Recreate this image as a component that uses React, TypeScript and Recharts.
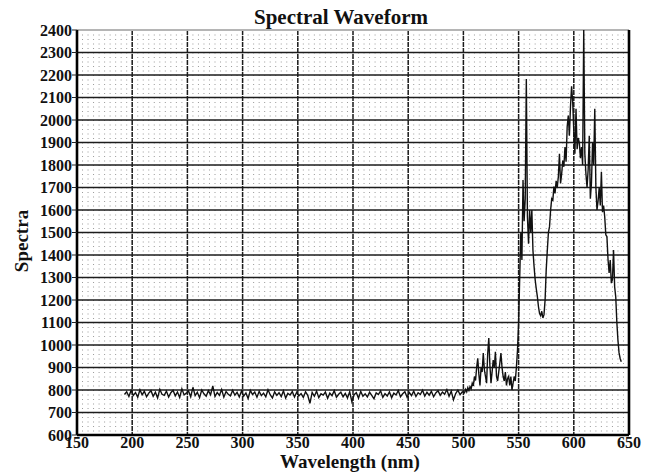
import React from "react";
import {
  LineChart,
  Line,
  XAxis,
  YAxis,
  CartesianGrid,
  ReferenceLine,
} from "recharts";

// Flat detector floor, sampled every 2 nm starting at 193 nm
const baselineStartNm = 193;
const baselineStepNm = 2;
const baselineValues = [
  780, 792, 771, 798, 776, 789, 768, 801, 779, 794,
  770, 786, 797, 772, 790, 765, 803, 781, 776, 795,
  769, 788, 799, 774, 791, 767, 805, 778, 786, 796,
  770, 812, 775, 790, 766, 800, 783, 772, 797, 779,
  818, 771, 789, 776, 802, 768, 793, 781, 774, 799,
  777, 790, 769, 795, 773, 787, 762, 798, 780, 791,
  768, 794, 775, 786, 770, 801, 779, 765, 792, 776,
  788, 771, 796, 764, 785, 778, 793, 769, 790, 774,
  784, 767, 792, 776, 741, 789, 772, 795, 766, 783,
  777, 791, 763, 786, 775, 797, 768, 781, 790, 770,
  785, 765, 792, 748, 779, 788, 764, 794, 772, 783,
  769, 790, 776, 761, 787, 780, 796, 767, 784, 773,
  791, 766, 786, 778, 798, 770, 783, 792, 768, 789,
  775, 795, 771, 788, 780, 799, 773, 790, 777, 794,
  770, 787, 797, 776, 791, 781, 802, 772, 795, 756,
  784, 799, 779, 792,
];

// Emission region, sampled every 1 nm starting at 501 nm
const emissionStartNm = 501;
const emissionStepNm = 1;
const emissionValues = [
  788, 803, 792, 810, 798, 815, 805, 830, 818, 860,
  842, 900, 941, 870, 820, 900, 880, 964, 890, 860,
  830, 960, 1031, 910, 830, 880, 933, 900, 970, 860,
  840, 880, 920, 964, 900, 860, 840, 880, 820, 850,
  860, 820, 860, 800, 830, 860, 840, 900, 978, 1098,
  1300, 1500, 1378, 1733, 1550, 1650, 2182, 1570, 1450, 1600,
  1500, 1600, 1420, 1350, 1290, 1250, 1215, 1170, 1140, 1130,
  1150, 1120, 1135, 1200, 1333, 1420, 1500, 1526, 1600, 1650,
  1644, 1704, 1674, 1730, 1700, 1748, 1850, 1718, 1760, 1820,
  1792, 1880, 1815, 1970, 2020, 1930, 2060, 2150, 2080, 1950,
  1850, 2050, 1870, 1920, 1900, 1830, 1880, 1800, 2400, 1850,
  1760, 1700, 1780, 1930, 1650, 1720, 1900, 1800, 2050, 1700,
  1600, 1640, 1700, 1620, 1770, 1590, 1620, 1570, 1490, 1482,
  1380, 1320, 1378, 1275, 1290, 1422, 1259, 1213, 1100, 1020,
  965, 940, 926,
];

const xTicks = [150, 200, 250, 300, 350, 400, 450, 500, 550, 600, 650];
const yTicks = [
  600, 700, 800, 900, 1000, 1100, 1200, 1300, 1400, 1500,
  1600, 1700, 1800, 1900, 2000, 2100, 2200, 2300, 2400,
];
// Fine dot grid: every 5 nm across the wavelength range
const minorXValues: number[] = [];
for (let v = 150; v <= 650; v += 5) minorXValues.push(v);

const spectrum = [
  ...baselineValues.map((spectra, i) => ({
    nm: baselineStartNm + i * baselineStepNm,
    spectra,
  })),
  ...emissionValues.map((spectra, i) => ({
    nm: emissionStartNm + i * emissionStepNm,
    spectra,
  })),
];

const SERIF = "'Liberation Serif', 'Times New Roman', serif";
const tickStyle = {
  fontFamily: SERIF,
  fontWeight: 700,
  fontSize: 16,
  fill: "#111",
};

const X_MIN = 150;
const X_MAX = 650;

function minorVerticals({ xAxis, offset }: any): number[] {
  if (xAxis && typeof xAxis.scale === "function") {
    return minorXValues.map((v) => xAxis.scale(v));
  }
  return minorXValues.map(
    (v) => offset.left + ((v - X_MIN) / (X_MAX - X_MIN)) * offset.width
  );
}

export default function App() {
  return (
    <div
      style={{
        position: "absolute",
        left: 0,
        top: 0,
        width: 660,
        height: 472,
        background: "#fff",
      }}
    >
      <LineChart
        width={660}
        height={472}
        data={spectrum}
        margin={{ top: 30, right: 31, bottom: 0, left: 0 }}
      >
        <CartesianGrid
          horizontal={false}
          vertical={true}
          verticalCoordinatesGenerator={minorVerticals}
          stroke="#9a9a9a"
          strokeWidth={1}
          strokeDasharray="1 3.5"
        />
        <CartesianGrid
          horizontal={true}
          vertical={false}
          stroke="#1c1c1c"
          strokeWidth={1.6}
        />
        <CartesianGrid
          horizontal={false}
          vertical={true}
          stroke="#1c1c1c"
          strokeWidth={1.5}
          strokeDasharray="5 1"
        />
        <XAxis
          dataKey="nm"
          type="number"
          domain={[X_MIN, X_MAX]}
          ticks={xTicks}
          allowDataOverflow
          height={37}
          tickSize={0}
          tickMargin={2}
          tickLine={false}
          axisLine={{ stroke: "#000", strokeWidth: 2.6 }}
          tick={tickStyle}
          interval={0}
        />
        <YAxis
          type="number"
          domain={[600, 2400]}
          ticks={yTicks}
          allowDataOverflow
          width={77}
          tickSize={5}
          tickMargin={0}
          tickLine={{ stroke: "#222", strokeWidth: 1 }}
          axisLine={{ stroke: "#000", strokeWidth: 2.6 }}
          tick={tickStyle}
          interval={0}
        />
        <ReferenceLine y={2400} stroke="#b5b5b5" strokeWidth={2} />
        <ReferenceLine x={650} stroke="#000" strokeWidth={2.6} />
        <Line
          type="linear"
          dataKey="spectra"
          stroke="#111"
          strokeWidth={1.4}
          dot={false}
          isAnimationActive={false}
        />
      </LineChart>
      <svg
        width={660}
        height={472}
        style={{ position: "absolute", left: 0, top: 0, pointerEvents: "none" }}
      >
        <text
          x={341}
          y={24}
          textAnchor="middle"
          fontFamily={SERIF}
          fontWeight={700}
          fontSize={21}
          fill="#111"
        >
          Spectral Waveform
        </text>
        <text
          x={350}
          y={468}
          textAnchor="middle"
          fontFamily={SERIF}
          fontWeight={700}
          fontSize={19}
          fill="#111"
        >
          Wavelength (nm)
        </text>
        <text
          transform="translate(28 241) rotate(-90)"
          textAnchor="middle"
          fontFamily={SERIF}
          fontWeight={700}
          fontSize={19}
          fill="#111"
        >
          Spectra
        </text>
      </svg>
    </div>
  );
}
